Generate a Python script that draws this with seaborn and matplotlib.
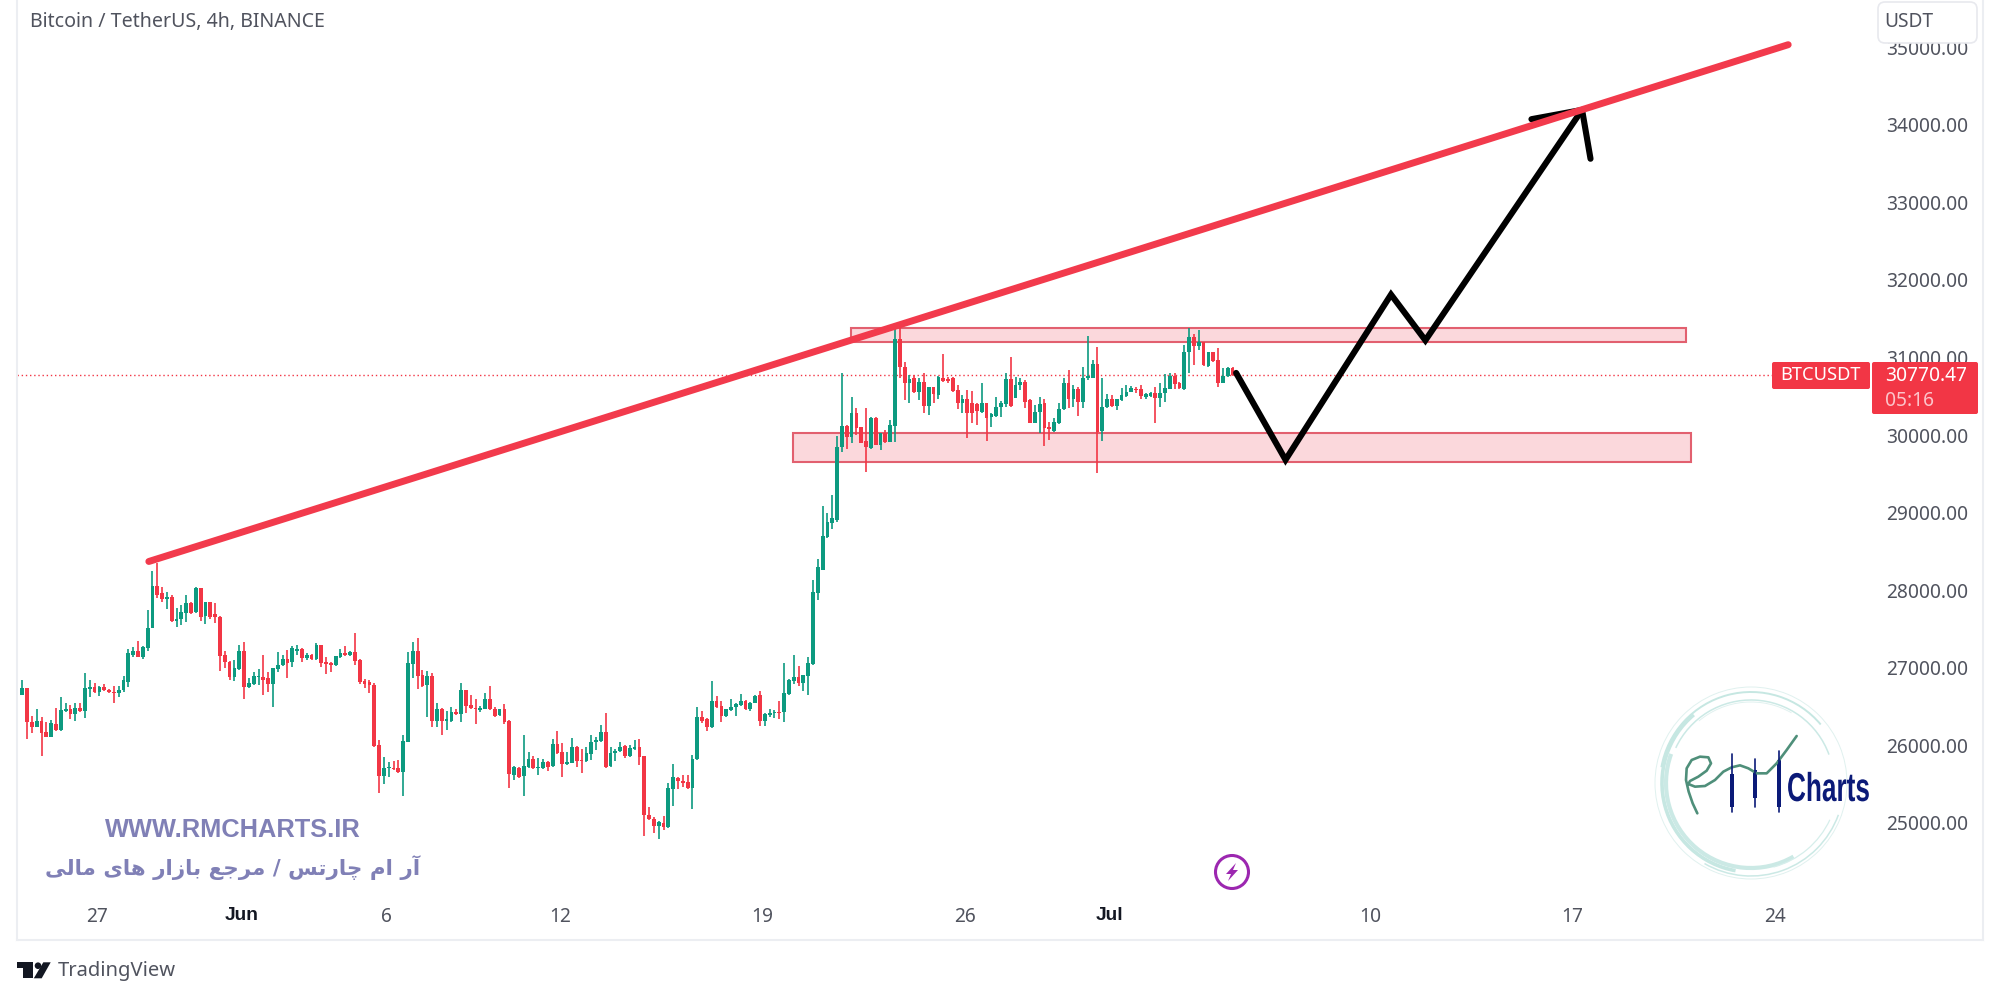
import numpy as np
import pandas as pd
import matplotlib
matplotlib.use("Agg")
import matplotlib.pyplot as plt
import matplotlib.dates as mdates
import matplotlib.patheffects as pe
from matplotlib.patches import Rectangle, FancyBboxPatch, Arc, Polygon, Circle
from matplotlib.transforms import Affine2D
import seaborn as sns

# 4h candles
first_candle = "2023-05-24 10:00"

opens = [
    26650,26735,26295,26235,26315,26175,26110,26275,26200,26445,
    26470,26405,26485,26440,26730,26750,26685,26750,26715,26690,
    26675,26710,26820,27165,27210,27145,27260,27510,28060,27960,
    27890,27910,27605,27635,27710,27830,27720,28025,27665,27845,
    27695,27660,27165,27080,26885,26985,27210,26750,26790,26875,
    26885,26865,26790,26980,27035,27115,27080,27220,27240,27120,
    27165,27110,27300,27080,27065,27030,27145,27195,27160,27200,
    27100,26830,26815,26780,26000,25605,25710,25715,25705,25660,
    26050,27050,27215,26905,26775,26895,26320,26475,26320,26320,
    26435,26405,26715,26520,26485,26455,26475,26595,26475,26390,
    26470,26320,25620,25715,25605,25725,25830,25705,25710,25790,
    25735,26020,25910,25760,25775,25985,25810,25805,25885,26045,
    26060,26175,25735,25900,25925,25990,25865,25955,25975,25865,
    25105,25055,24960,25005,24945,25435,25585,25545,25530,25445,
    25820,26360,26335,26235,26570,26510,26385,26455,26500,26525,
    26570,26470,26550,26650,26320,26390,26415,26435,26425,26660,
    26830,26885,26810,26895,27050,27960,28260,28680,28860,28905,
    29850,30115,29980,30290,30105,29925,29830,30225,29870,30020,
    29905,30115,31235,30880,30665,30730,30550,30685,30375,30615,
    30515,30740,30720,30730,30580,30415,30460,30410,30400,30300,
    30410,30230,30245,30365,30395,30720,30480,30640,30685,30450,
    30160,30295,30410,30100,30055,30150,30330,30665,30460,30590,
    30430,30730,30740,30910,30050,30355,30460,30375,30450,30505,
    30560,30595,30590,30495,30505,30535,30480,30535,30595,30765,
    30665,30590,31065,31260,31145,31195,30895,31065,30965,30675,
    30760,30860,
]
highs = [
    26845,26735,26380,26470,26370,26295,26325,26485,26630,26540,
    26520,26540,26540,26930,26845,26800,26765,26785,26725,26765,
    26770,26895,27240,27270,27345,27280,27745,28250,28345,28045,
    27980,27940,27765,27810,27940,27850,28035,28025,27850,27850,
    27830,27665,27210,27090,27100,27295,27335,26865,26950,26980,
    27165,26950,27000,27200,27165,27230,27280,27295,27250,27185,
    27175,27325,27300,27145,27080,27150,27240,27280,27210,27445,
    27110,26850,26845,26800,26070,25845,25790,25805,25810,26135,
    27205,27335,27380,26970,26965,26930,26540,26480,26445,26500,
    26475,26800,26715,26650,26595,26510,26680,26770,26500,26475,
    26530,26325,25735,25725,26140,25920,25865,25835,25830,25805,
    26080,26190,26025,25920,26090,25990,25950,25975,26135,26110,
    26265,26420,25975,25950,26050,26000,26005,26070,26080,25865,
    25200,25075,25030,25090,25510,25760,25595,25620,25620,25875,
    26500,26445,26350,26835,26635,26575,26475,26595,26540,26660,
    26585,26565,26650,26705,26420,26475,26455,26575,27065,26850,
    27165,27025,26910,27135,28125,28400,29085,29000,29225,29985,
    30795,30130,30495,30345,30105,30350,30230,30235,30020,30065,
    30195,31405,31405,30945,30775,30775,30730,30795,30625,30625,
    30765,31040,30750,30750,30645,30515,30580,30570,30410,30665,
    30415,30280,30485,30440,30795,31000,30750,30740,30715,30470,
    30385,30485,30465,30170,30215,30410,30730,30840,30645,30625,
    30880,31275,30965,31140,30730,30530,30515,30470,30600,30645,
    30630,30625,30645,30545,30555,30615,30665,30785,30795,30795,
    30685,31160,31375,31300,31355,31205,31075,31075,31115,30860,
    30870,30870,
]
lows = [
    26650,26080,26165,26235,25865,26110,26110,26190,26190,26435,
    26340,26320,26430,26355,26630,26680,26635,26705,26670,26550,
    26620,26690,26755,27135,27135,27110,27210,27510,27895,27845,
    27755,27595,27520,27550,27595,27695,27710,27605,27560,27635,
    27575,26965,26995,26845,26835,26970,26595,26735,26780,26780,
    26650,26690,26500,26950,27025,26865,27005,27165,27080,27100,
    27100,27100,27015,26915,26950,27025,27120,27150,27150,27035,
    26785,26735,26670,25985,25380,25500,25595,25685,25640,25350,
    26040,26865,26725,26755,26360,26240,26240,26135,26200,26305,
    26390,26305,26415,26475,26270,26435,26465,26455,26370,26385,
    26270,25445,25560,25575,25350,25705,25690,25620,25690,25675,
    25725,25890,25590,25745,25770,25725,25640,25790,25810,25940,
    26050,25705,25725,25805,25915,25835,25855,25940,25745,24830,
    25040,24875,24790,24910,24935,25225,25435,25470,25440,25175,
    25810,26290,26185,26230,26485,26305,26370,26445,26380,26510,
    26455,26445,26540,26250,26250,26370,26350,26335,26305,26650,
    26790,26770,26705,26655,27035,27875,28260,28670,28795,28885,
    29785,29815,29895,30000,29895,29525,29820,29870,29805,29900,
    29905,29915,30730,30450,30415,30545,30450,30280,30260,30410,
    30460,30685,30665,30560,30330,30280,29955,30150,30130,30290,
    29925,30105,30235,30235,30365,30365,30475,30580,30345,30150,
    30150,30020,29860,29935,30045,30140,30320,30345,30365,30245,
    30345,30715,30730,29505,29925,30345,30365,30320,30440,30495,
    30550,30545,30460,30470,30485,30150,30355,30430,30590,30590,
    30590,30580,30795,30900,31095,30890,30870,30945,30625,30665,
    30750,30760,
]
closes = [
    26735,26295,26235,26315,26165,26110,26285,26200,26455,26470,
    26405,26485,26440,26735,26755,26690,26750,26715,26685,26675,
    26715,26845,27185,27215,27145,27270,27515,28060,27940,27885,
    27910,27605,27635,27725,27830,27710,28025,27660,27845,27660,
    27650,27155,27075,26885,26995,27210,26755,26800,26895,26895,
    26845,26790,26995,27040,27115,27065,27250,27240,27120,27165,
    27110,27300,27065,27050,27030,27150,27185,27160,27200,27090,
    26820,26785,26775,25990,25605,25715,25725,25700,25655,26055,
    27065,27215,26895,26770,26895,26320,26470,26320,26335,26435,
    26410,26715,26510,26485,26465,26485,26595,26465,26385,26470,
    26305,25625,25725,25595,25740,25820,25705,25715,25790,25725,
    26020,25900,25760,25790,25985,25800,25800,25900,26050,26070,
    26175,25725,25900,25930,25985,25865,25960,25975,25855,25105,
    25045,24960,25010,24945,25445,25590,25535,25520,25445,25825,
    26370,26320,26235,26570,26500,26385,26470,26500,26535,26570,
    26470,26550,26640,26320,26400,26420,26435,26420,26670,26845,
    26885,26810,26905,27060,27975,28295,28700,28875,28925,29850,
    30115,29980,30290,30085,29900,29840,30225,29870,30020,29905,
    30130,31235,30870,30675,30720,30550,30685,30375,30615,30525,
    30745,30700,30700,30565,30410,30460,30280,30280,30310,30410,
    30225,30270,30365,30410,30720,30375,30645,30685,30430,30160,
    30300,30400,30085,30075,30165,30335,30665,30460,30590,30430,
    30740,30765,30910,30045,30365,30460,30375,30460,30515,30560,
    30600,30575,30505,30530,30535,30480,30535,30610,30765,30655,
    30600,31065,31260,31150,31205,30900,31065,30955,30675,30765,
    30860,30770,
]

# axis labels
price_ticks = [25000, 26000, 27000, 28000, 29000, 30000, 31000, 32000, 33000, 34000, 35000]
date_ticks = ["2023-05-27", "2023-06-01", "2023-06-06", "2023-06-12", "2023-06-19",
              "2023-06-26", "2023-07-01", "2023-07-10", "2023-07-17", "2023-07-24"]
date_labels = ["27", "Jun", "6", "12", "19", "26", "Jul", "10", "17", "24"]
last_price = 30770.47

# drawings on the chart
trend_dates = ["2023-05-28 19:00", "2023-07-24 11:00"]
trend_prices = [28370, 35030]
path_dates = ["2023-07-05 09:00", "2023-07-07 02:00", "2023-07-10 17:30", "2023-07-11 22:00", "2023-07-17 08:00"]
path_prices = [30800, 29680, 31810, 31220, 34190]
arrow_dates = ["2023-07-15 14:00", "2023-07-17 08:00", "2023-07-17 15:00"]
arrow_prices = [34070, 34190, 33560]
zone_starts = ["2023-06-22 01:30", "2023-06-20 01:30"]
zone_ends = ["2023-07-20 22:00", "2023-07-21 02:00"]
zone_tops = [31380, 30025]
zone_bottoms = [31200, 29650]

UP = "#0d9a80"
DOWN = "#f23645"
TICK = "#50535e"
FONT = "Noto Sans"
BOLD = "Liberation Sans"

sns.set_theme(style="white")
plt.rcParams["font.family"] = [FONT, "DejaVu Sans"]

df = pd.DataFrame({"open": opens, "high": highs, "low": lows, "close": closes})
df["date"] = pd.date_range(first_candle, periods=len(df), freq="4h")
df["x"] = mdates.date2num(df["date"])
df["up"] = df["close"] >= df["open"]


def num(dates):
    return mdates.date2num(pd.to_datetime(dates))


class SqueezeX(pe.AbstractPathEffect):
    # narrows a text around its left edge, no condensed bold font here
    def __init__(self, x0, factor):
        super().__init__()
        self.x0 = x0
        self.factor = factor

    def draw_path(self, renderer, gc, tpath, affine, rgbFace=None):
        squeeze = Affine2D().translate(-self.x0, 0).scale(self.factor, 1).translate(self.x0, 0)
        renderer.draw_path(gc, tpath, affine + squeeze, rgbFace)


fig = plt.figure(figsize=(20, 10), dpi=100, facecolor="white")
ax = fig.add_axes([17 / 2000, 60 / 1000, 1966 / 2000, 940 / 1000])

# zones sit under the candles
for start, end, top, bottom in zip(num(zone_starts), num(zone_ends), zone_tops, zone_bottoms):
    ax.add_patch(Rectangle((start, bottom), end - start, top - bottom, facecolor="#fbd8dc",
                           edgecolor="#e2606f", linewidth=1.5, zorder=1))

ax.axhline(last_price, xmax=(1772 - 17) / 1966, color=DOWN, linestyle=(0, (1, 2)), linewidth=1, zorder=1.5)

colors = np.where(df["up"], UP, DOWN)
ax.vlines(df["x"], df["low"], df["high"], colors=colors, linewidth=1.2, zorder=2)
ax.bar(df["x"], (df["close"] - df["open"]).abs().clip(lower=15), bottom=df[["open", "close"]].min(axis=1),
       width=0.13, color=colors, linewidth=0, zorder=3)

sns.lineplot(x=num(path_dates), y=path_prices, ax=ax, sort=False, estimator=None, color="black",
             linewidth=4.4, solid_capstyle="round", solid_joinstyle="miter", zorder=4)
sns.lineplot(x=num(arrow_dates), y=arrow_prices, ax=ax, sort=False, estimator=None, color="black",
             linewidth=4.4, solid_capstyle="round", solid_joinstyle="miter", zorder=4)
sns.lineplot(x=num(trend_dates), y=trend_prices, ax=ax, sort=False, estimator=None, color="#f23a4c",
             linewidth=5, solid_capstyle="round", zorder=5)

day0 = mdates.date2num(pd.Timestamp("2023-05-27"))
ax.set_xlim(day0 - 80 / 28.93, day0 + 1886 / 28.93)
ax.set_ylim(23492, 35606)
ax.set_xlabel("")
ax.set_ylabel("")

ax.set_xticks(num(date_ticks))
ax.set_xticklabels(date_labels, fontsize=13.8, color=TICK)
for label in ax.get_xticklabels():
    if not label.get_text().isdigit():
        label.set_family(BOLD)
        label.set_fontweight("bold")
        label.set_color("#131722")
ax.set_yticks(price_ticks)
ax.set_yticklabels([f"{p:.2f}" for p in price_ticks], fontsize=13.8, color=TICK)
ax.tick_params(axis="x", length=0, pad=-24)
ax.tick_params(axis="y", length=0, left=False, labelleft=False, right=False, labelright=True, pad=-70)
sns.despine(ax=ax, top=True, right=False, left=False, bottom=False)
for side in ["left", "right", "bottom"]:
    ax.spines[side].set_color("#eceef2")
    ax.spines[side].set_linewidth(1.5)

# overlay in image pixels for the tags, logos and watermark
ov = fig.add_axes([0, 0, 1, 1], zorder=5)
ov.set_xlim(0, 2000)
ov.set_ylim(1000, 0)
ov.axis("off")
ov.patch.set_alpha(0)

ov.text(30, 22, "Bitcoin / TetherUS, 4h, BINANCE", fontsize=14.1, color=TICK, va="center")

ov.add_patch(FancyBboxPatch((1878, 2), 99, 41, boxstyle="round,pad=0,rounding_size=7",
                            facecolor="white", edgecolor="#e8e9ee", linewidth=1.2))
ov.text(1884, 22, "USDT", fontsize=13.8, color=TICK, va="center")

ov.add_patch(FancyBboxPatch((1772, 362), 98, 27, boxstyle="round,pad=0,rounding_size=2",
                            facecolor=DOWN, edgecolor="none"))
ov.add_patch(FancyBboxPatch((1872, 362), 106, 52, boxstyle="round,pad=0,rounding_size=2",
                            facecolor=DOWN, edgecolor="none"))
ov.text(1780, 375.5, "BTCUSDT", fontsize=13.2, color="white", va="center")
ov.text(1885, 376, f"{last_price:.2f}", fontsize=13.8, color="white", va="center")
ov.text(1885, 401, "05:16", fontsize=13.8, color="#fcc4ca", va="center")

# watermark, Persian line in shaped forms and visual order
persian_forms = ("\uFE81\uFEAD \uFE8D\uFEE1 \uFB7C\uFE8E\uFEAD\uFE97\uFEB2 / \uFEE3\uFEAE\uFE9F\uFECA "
                 "\uFE91\uFE8E\uFEAF\uFE8D\uFEAD \uFEEB\uFE8E\uFBFC \uFEE3\uFE8E\uFEDF\uFBFD")
ov.text(233, 830, "WWW.RMCHARTS.IR", fontsize=18.3, fontweight="bold", color="#8080b6", ha="center", va="center",
        family=BOLD)
ov.text(233, 868, persian_forms[::-1], fontsize=15.4, fontweight="bold", color="#8080b6", ha="center", va="center",
        family="DejaVu Sans")

# lightning icon
ov.add_patch(Circle((1232, 872), 16.5, facecolor="white", edgecolor="#9c27b0", linewidth=2.2))
ov.add_patch(Polygon([(1236, 863), (1226, 874), (1231, 874), (1228, 881), (1238, 870), (1233, 870)],
                     facecolor="#9c27b0", edgecolor="none"))

# RM Charts logo
ring_center = (1751, 783)
ring_arcs = [(192, 0, 360, 0.7, "#e0f1ef"), (178, 100, 230, 2.6, "#c6e7e2"), (170, 60, 200, 3.0, "#cbe9e5"),
             (182, 190, 320, 1.4, "#c6e7e2"), (166, 205, 340, 1.1, "#cbe9e5"), (186, 20, 120, 1.1, "#cbe9e5"),
             (174, 25, 75, 0.9, "#d6eeeb"), (162, 230, 300, 0.7, "#e0f1ef")]
for diameter, theta1, theta2, width, color in ring_arcs:
    ov.add_patch(Arc(ring_center, diameter, diameter, theta1=theta1, theta2=theta2, color=color, linewidth=width))

curve_zx = [172, 158, 146, 138, 140, 155, 180, 205, 213, 200, 175, 150, 145, 165, 195, 225, 250, 275, 300, 325, 350, 380, 410, 440, 470]
curve_zy = [400, 370, 335, 300, 265, 240, 230, 232, 250, 272, 290, 303, 312, 320, 318, 300, 275, 262, 256, 265, 280, 280, 250, 210, 168]
ov.plot(1640 + np.array(curve_zx) / 3, 680 + np.array(curve_zy) / 3, color="#4f8f7a", linewidth=1.9,
        solid_capstyle="round", solid_joinstyle="round")
for x, y0, y1, b0, b1 in [(1732, 754, 812, 774, 807), (1755, 759, 807, 770, 798), (1779, 751, 812, 760, 807)]:
    ov.plot([x, x], [y0, y1], color="#0b1a78", linewidth=1.2)
    ov.add_patch(Rectangle((x - 1.7, b0), 3.4, b1 - b0, facecolor="#0b1a78", edgecolor="none"))
ov.text(1787, 790, "Charts", fontsize=29, fontweight="bold", color="#0b1a78", va="center", family=BOLD,
        path_effects=[SqueezeX(1787, 0.65)])

# TradingView mark
ov.add_patch(Polygon([(17.3, 962.3), (33.3, 962.3), (33.3, 978.3), (22.7, 978.3), (22.7, 968.3), (17.3, 968.3)],
                     facecolor="#131722", edgecolor="none"))
ov.add_patch(Circle((38, 965.7), 3.3, facecolor="#131722", edgecolor="none"))
ov.add_patch(Polygon([(43.3, 962.3), (50.7, 962.3), (41.7, 978.3), (33.8, 978.3)], facecolor="#131722", edgecolor="none"))
ov.text(58, 971, "TradingView", fontsize=14.5, color="#50535e", va="center")

fig.savefig("out.png", dpi=100)
